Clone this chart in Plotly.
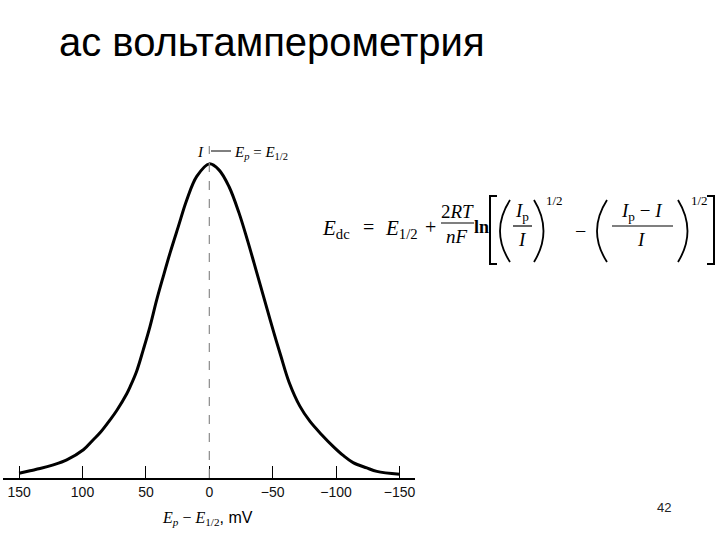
import plotly.graph_objects as go

# ---- data ----
E_MV = [150, 141.4, 133.5, 123.0, 112.4, 99.3, 91.5, 86.2, 78.3, 73.0, 65.1, 62.5, 57.3, 52.1, 46.8,
        41.5, 36.3, 31.0, 24.4, 17.8, 9.9, 0,
        -7.6, -15.5, -23.4, -30.0, -35.3, -40.5, -45.7, -51.0, -56.3, -62.9, -71.5, -79.4, -88.6,
        -97.8, -105.8, -113.4, -124.2, -132.1, -150]
I_REL = [0.015, 0.023, 0.030, 0.042, 0.058, 0.090, 0.122, 0.144, 0.185, 0.215, 0.268, 0.290, 0.340, 0.408, 0.482,
         0.567, 0.642, 0.716, 0.801, 0.885, 0.960, 1.000,
         0.981, 0.928, 0.844, 0.758, 0.684, 0.610, 0.536, 0.461, 0.390, 0.305, 0.228, 0.180, 0.138,
         0.100, 0.071, 0.049, 0.032, 0.021, 0.012]
TICK_VALS = [150, 100, 50, 0, -50, -100, -150]
TICK_TEXT = ["150", "100", "50", "0", "\u221250", "\u2212100", "\u2212150"]
TITLE = "ac вольтамперометрия"
PAGE = "42"

# ---- layout geometry (page pixels; body margin removed by post_script) ----
OFF = 0
W, H = 720, 540
L, R, T, B = 3, 305, 140, 62
PW, PH = W - L - R, H - T - B

def px(x):
    return (x - OFF - L) / PW

def py(y):
    return (T + PH - (y - OFF)) / PH

SERIF = "Liberation Serif, Times New Roman, serif"
SANS = "Liberation Sans, Arial, sans-serif"

fig = go.Figure()
fig.add_trace(go.Scatter(x=E_MV, y=I_REL, mode="lines",
                         line=dict(color="black", width=3, shape="spline", smoothing=1.0),
                         hoverinfo="skip", showlegend=False))

annotations = []
shapes = []

def ann(text, x, y, size, family=SERIF, xanchor="center", yanchor="middle", color="black"):
    annotations.append(dict(text=text, x=px(x), y=py(y), xref="paper", yref="paper",
                            xanchor=xanchor, yanchor=yanchor, showarrow=False,
                            font=dict(size=size, family=family, color=color)))

def path(d, width=1.8, color="black"):
    shapes.append(dict(type="path", xref="paper", yref="paper", path=d,
                       line=dict(color=color, width=width)))

def seg(x0, y0, x1, y1, width=1.2, color="black"):
    shapes.append(dict(type="line", xref="paper", yref="paper",
                       x0=px(x0), y0=py(y0), x1=px(x1), y1=py(y1),
                       line=dict(color=color, width=width)))

def pt(x, y):
    return f"{px(x)},{py(y)}"

# title and page number
ann(TITLE, 272, 42, 40, family=SANS)
ann(PAGE, 664, 507, 13, family=SANS, color="#222")

# dashed centre line
shapes.append(dict(type="line", xref="x", yref="y", x0=0, x1=0, y0=0, y1=1.057,
                   line=dict(color="#8a8a8a", width=1.2, dash="dash")))

# peak label
ann("<i>I</i>", 200, 152, 15)
seg(211, 151, 231, 151, width=1)
ann("<i>E<sub>p</sub></i> = <i>E</i><sub>1/2</sub>", 232, 153, 15, xanchor="left")

# axis title
ann("<i>E<sub>p</sub></i> \u2212 <i>E</i><sub>1/2</sub><span style=\"font-family:Liberation Sans, Arial\">, mV</span>",
    207, 518, 16)

# equation
ann("<i>E</i><sub>dc</sub>", 320, 229, 21, xanchor="left")
ann("=", 361, 227, 20, xanchor="left")
ann("<i>E</i><sub>1/2</sub>", 383, 229, 21, xanchor="left")
ann("+", 423, 227, 20, xanchor="left")
ann("2<i>RT</i>", 457, 211, 19)
seg(441, 223, 474, 223, width=1.2)
ann("<i>nF</i>", 457, 236, 19)
ann("<b>ln</b>", 472, 227, 18, xanchor="left")

# brackets
path(f"M {pt(497,196)} L {pt(490,196)} L {pt(490,264)} L {pt(497,264)}", width=2)
path(f"M {pt(707,196)} L {pt(714,196)} L {pt(714,264)} L {pt(707,264)}", width=2)
# parentheses
path(f"M {pt(510,200)} Q {pt(490,231)} {pt(510,262)}")
path(f"M {pt(534,200)} Q {pt(553,231)} {pt(534,262)}")
path(f"M {pt(607,200)} Q {pt(587,231)} {pt(607,262)}")
path(f"M {pt(678,200)} Q {pt(697,231)} {pt(678,262)}")

ann("<i>I</i><sub>p</sub>", 522, 212, 19)
seg(513, 226, 532, 226, width=1.2)
ann("<i>I</i>", 522, 239, 19)
ann("1/2", 544, 200, 13, xanchor="left")
ann("\u2212", 580, 231, 20)
ann("<i>I</i><sub>p</sub> \u2212 <i>I</i>", 642, 212, 19)
seg(612, 226, 673, 226, width=1.2)
ann("<i>I</i>", 641, 239, 19)
ann("1/2", 689, 200, 13, xanchor="left")

fig.update_layout(
    width=W, height=H,
    margin=dict(l=L, r=R, t=T, b=B, autoexpand=False),
    paper_bgcolor="white", plot_bgcolor="white",
    showlegend=False,
    annotations=annotations,
    shapes=shapes,
    xaxis=dict(range=[162.7, -162.2], tickmode="array", tickvals=TICK_VALS, ticktext=TICK_TEXT,
               ticks="inside", ticklen=12, tickwidth=1.2, tickcolor="black",
               showline=True, linecolor="black", linewidth=2,
               showgrid=False, zeroline=False, automargin=False,
               ticklabeloverflow="allow",
               tickfont=dict(family=SANS, size=14, color="#111")),
    yaxis=dict(range=[0, 1.076], visible=False, showgrid=False, zeroline=False),
)

fig.write_html("out.html", config={"displayModeBar": False},
               post_script="document.body.style.margin='0';document.body.style.overflow='hidden';")
